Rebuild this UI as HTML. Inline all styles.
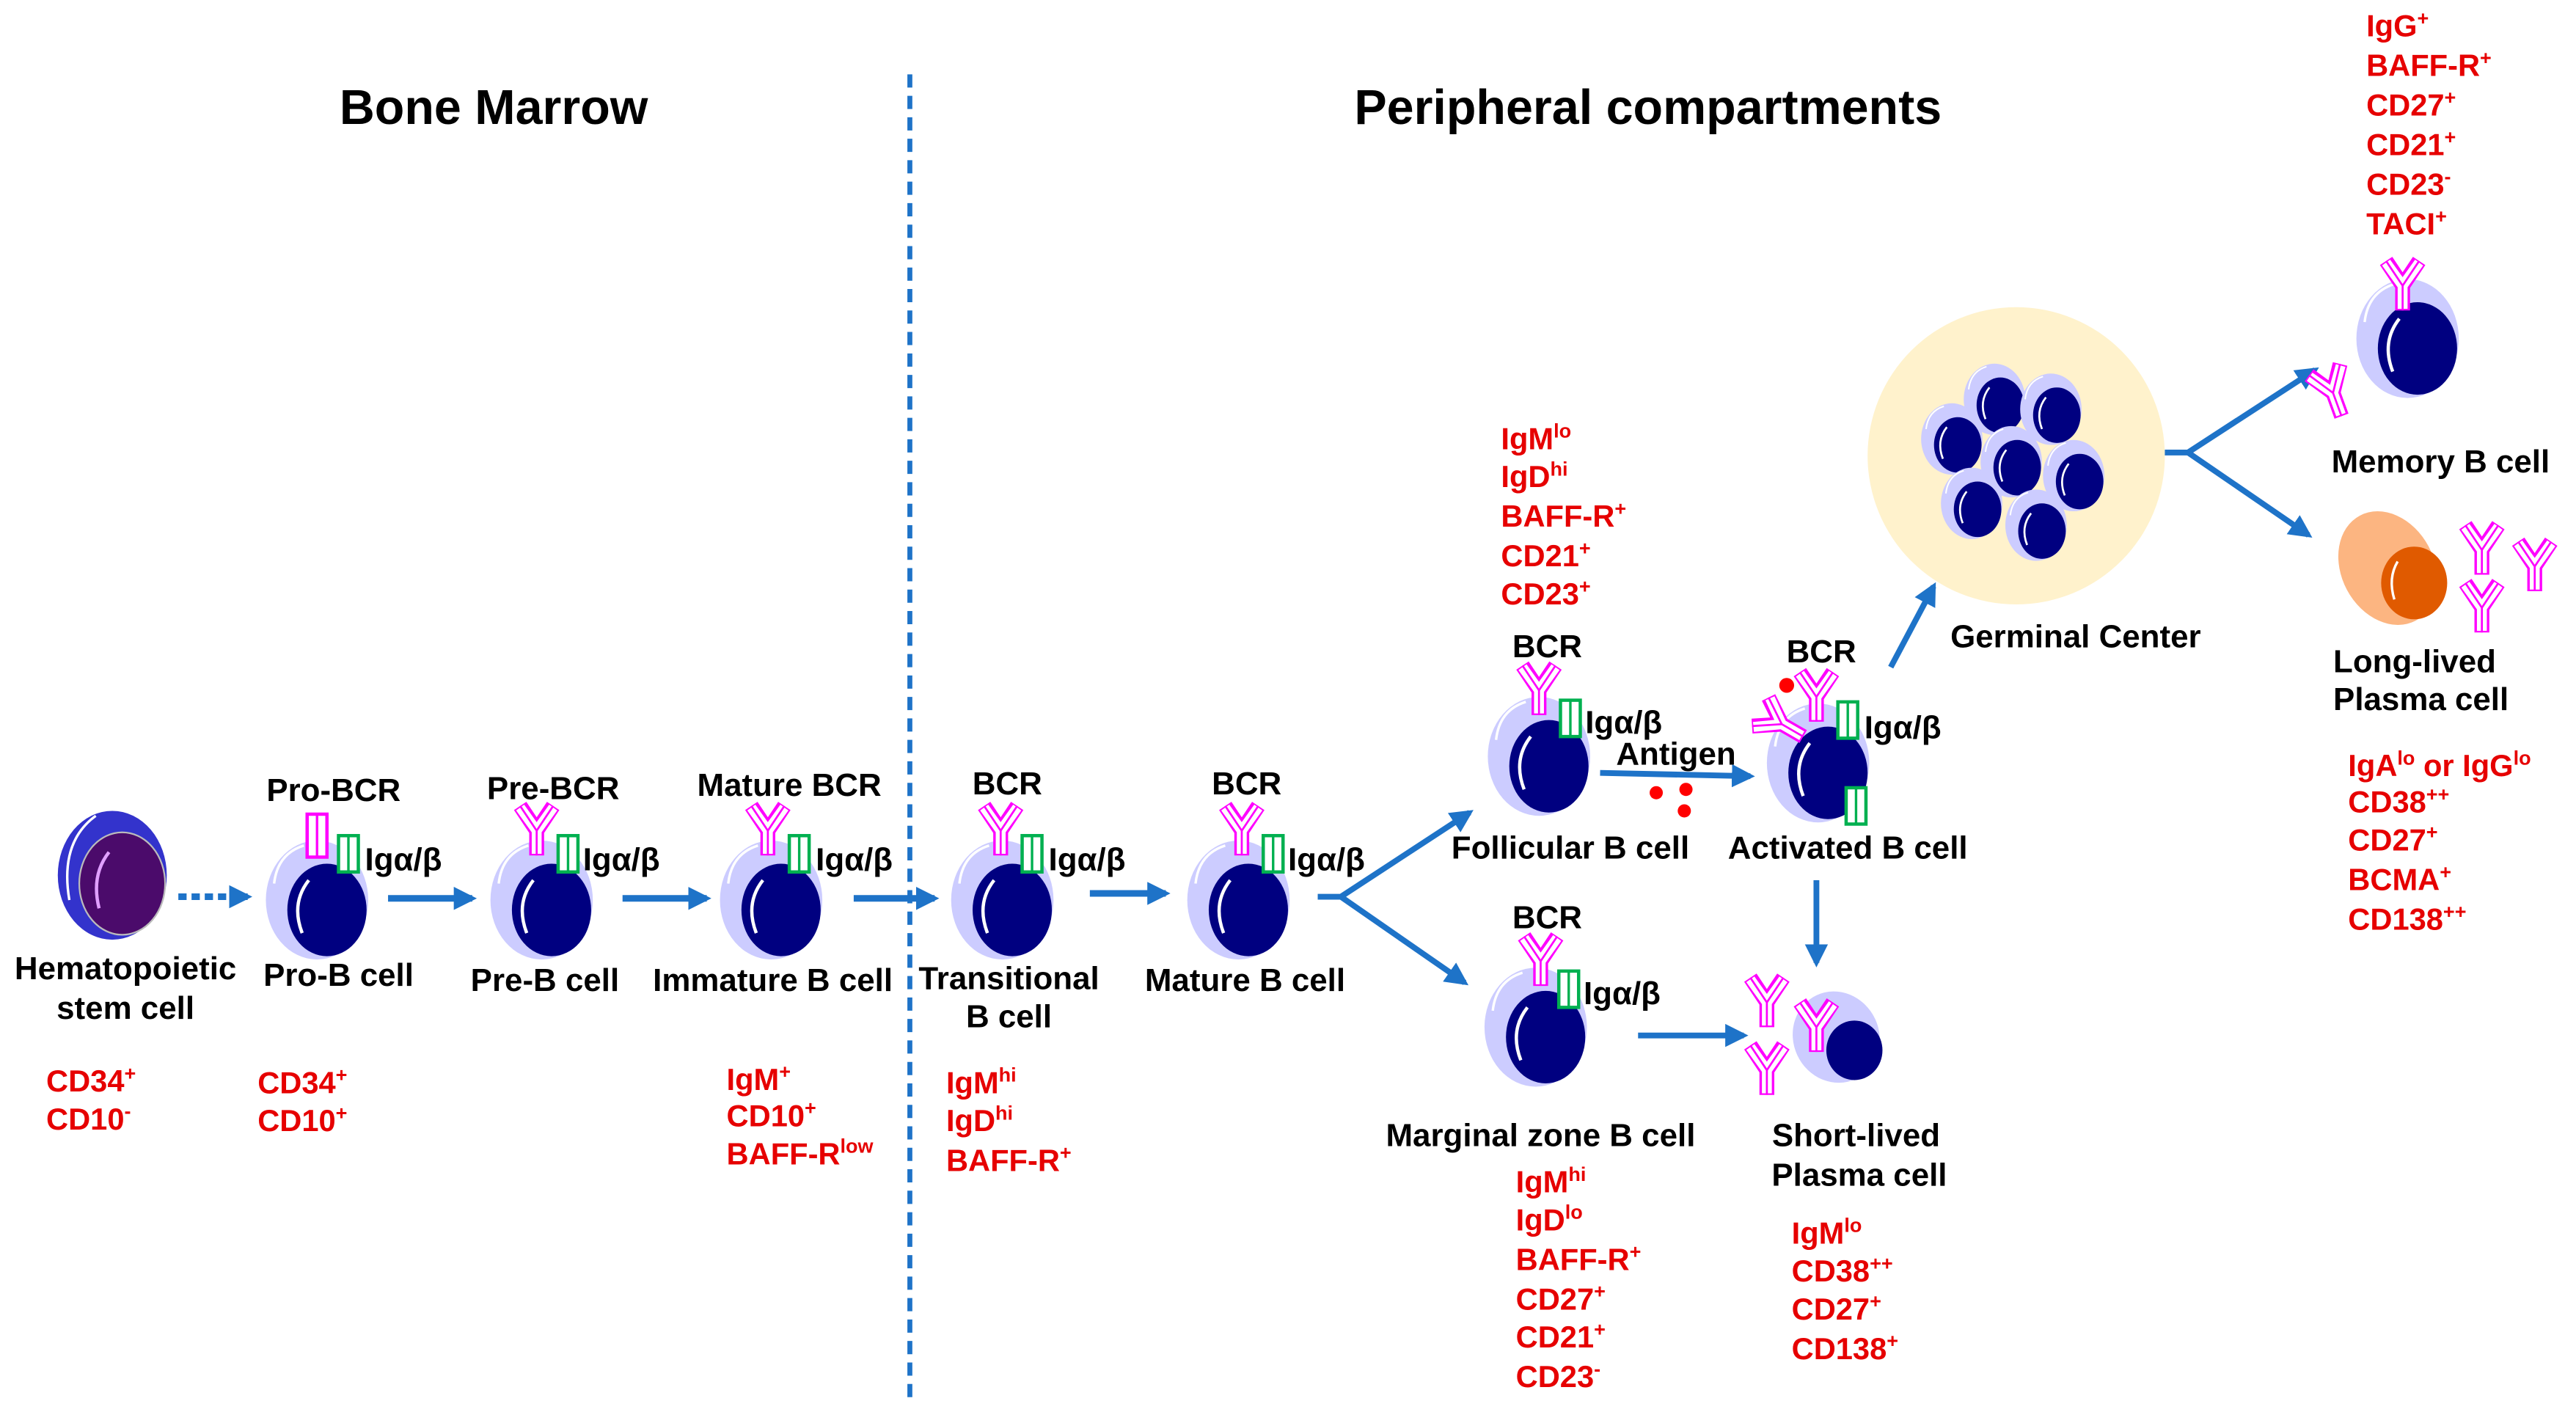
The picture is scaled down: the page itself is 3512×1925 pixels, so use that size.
<!DOCTYPE html>
<html><head><meta charset="utf-8"><style>
html,body{margin:0;padding:0;background:#fff;}
svg{display:block;}
text{font-family:"Liberation Sans",Arial,sans-serif;font-weight:bold;}
.t{font-size:19.5px;fill:#000;}
.r{font-size:18.5px;fill:#e60000;}
.h{font-size:29.5px;fill:#000;}
.s{font-size:12px;}
</style></head><body>
<svg width="3512" height="1925" viewBox="0 0 1560 855" preserveAspectRatio="none" xmlns="http://www.w3.org/2000/svg">
<defs>
<g id="bc">
<ellipse cx="0" cy="0" rx="31" ry="36" fill="#ccccff"/>
<path d="M-26,-10 Q-24,-28 -8,-33" stroke="#fff" stroke-width="1.5" fill="none"/>
<ellipse cx="6" cy="6" rx="24" ry="28" fill="#000080"/>
<path d="M-9,20 Q-16,2 -5,-12" stroke="#fff" stroke-width="2" fill="none"/>
</g>
<g id="ab">
<path d="M0,0 V-15 L-10,-30 M0,-15 L10,-30" stroke="#ff00ff" stroke-width="9" fill="none"/>
<path d="M0,-1 V-15 L-10,-29 M0,-15 L10,-29" stroke="#fff" stroke-width="6" fill="none"/>
<path d="M0,0 V-15 L-10,-30 M0,-15 L10,-30" stroke="#ff00ff" stroke-width="1.2" fill="none"/>
</g>
<g id="ig">
<rect x="0" y="0" width="12" height="22" fill="#fff" stroke="#00b050" stroke-width="2"/>
<line x1="6" y1="0" x2="6" y2="22" stroke="#00b050" stroke-width="1.5"/>
</g>
<marker id="ah2" viewBox="0 0 10 10" markerWidth="14" markerHeight="14" refX="8" refY="5" orient="auto" markerUnits="userSpaceOnUse">
<path d="M0,0 L10,5 L0,10 z" fill="#1e73c8"/>
</marker>
</defs>

<text class="h" x="299" y="75" text-anchor="middle">Bone Marrow</text>
<text class="h" x="998" y="75" text-anchor="middle">Peripheral compartments</text>
<line x1="551" y1="45" x2="551" y2="848" stroke="#1e73c8" stroke-width="3" stroke-dasharray="8,5"/>

<!-- HSC -->
<ellipse cx="68" cy="530" rx="33" ry="39" fill="#3333cc"/>
<path d="M42,545 Q36,510 58,494" stroke="#fff" stroke-width="1.5" fill="none"/>
<ellipse cx="74" cy="535" rx="26" ry="31" fill="#4b0b6b" stroke="#bbb" stroke-width="1"/>
<path d="M60,550 Q55,530 66,516" stroke="#e0a0ff" stroke-width="2" fill="none"/>
<text class="t" x="76" y="593" text-anchor="middle">Hematopoietic</text>
<text class="t" x="76" y="617" text-anchor="middle">stem cell</text>
<text class="r" x="28" y="661">CD34<tspan class="s" dy="-7">+</tspan></text>
<text class="r" x="28" y="684">CD10<tspan class="s" dy="-7">-</tspan></text>
<line x1="108" y1="543" x2="150" y2="543" stroke="#1e73c8" stroke-width="4" stroke-dasharray="5,3" marker-end="url(#ah2)"/>

<!-- Pro-B -->
<use href="#bc" x="192" y="545"/>
<rect x="186" y="493" width="12" height="26" fill="#fff" stroke="#ff00ff" stroke-width="2"/>
<line x1="192" y1="493" x2="192" y2="519" stroke="#ff00ff" stroke-width="1.5"/>
<use href="#ig" x="205" y="506"/>
<text class="t" x="221" y="527">Igα/β</text>
<text class="t" x="202" y="485" text-anchor="middle">Pro-BCR</text>
<text class="t" x="205" y="597" text-anchor="middle">Pro-B cell</text>
<text class="r" x="156" y="662">CD34<tspan class="s" dy="-7">+</tspan></text>
<text class="r" x="156" y="685">CD10<tspan class="s" dy="-7">+</tspan></text>
<line x1="235" y1="544" x2="286" y2="544" stroke="#1e73c8" stroke-width="4" marker-end="url(#ah2)"/>

<!-- Pre-B -->
<use href="#bc" x="328" y="545"/>
<use href="#ab" x="325" y="518"/>
<use href="#ig" x="338" y="506"/>
<text class="t" x="353" y="527">Igα/β</text>
<text class="t" x="335" y="484" text-anchor="middle">Pre-BCR</text>
<text class="t" x="330" y="600" text-anchor="middle">Pre-B cell</text>
<line x1="377" y1="544" x2="428" y2="544" stroke="#1e73c8" stroke-width="4" marker-end="url(#ah2)"/>

<!-- Immature -->
<use href="#bc" x="467" y="545"/>
<use href="#ab" x="465" y="518"/>
<use href="#ig" x="478" y="506"/>
<text class="t" x="494" y="527">Igα/β</text>
<text class="t" x="478" y="482" text-anchor="middle">Mature BCR</text>
<text class="t" x="468" y="600" text-anchor="middle">Immature B cell</text>
<text class="r" x="440" y="660">IgM<tspan class="s" dy="-7">+</tspan></text>
<text class="r" x="440" y="682">CD10<tspan class="s" dy="-7">+</tspan></text>
<text class="r" x="440" y="705">BAFF-R<tspan class="s" dy="-7">low</tspan></text>
<line x1="517" y1="544" x2="566" y2="544" stroke="#1e73c8" stroke-width="4" marker-end="url(#ah2)"/>

<!-- Transitional -->
<use href="#bc" x="607" y="545"/>
<use href="#ab" x="606" y="518"/>
<use href="#ig" x="619" y="506"/>
<text class="t" x="635" y="527">Igα/β</text>
<text class="t" x="610" y="481" text-anchor="middle">BCR</text>
<text class="t" x="611" y="599" text-anchor="middle">Transitional</text>
<text class="t" x="611" y="622" text-anchor="middle">B cell</text>
<text class="r" x="573" y="662">IgM<tspan class="s" dy="-7">hi</tspan></text>
<text class="r" x="573" y="685">IgD<tspan class="s" dy="-7">hi</tspan></text>
<text class="r" x="573" y="709">BAFF-R<tspan class="s" dy="-7">+</tspan></text>
<line x1="660" y1="541" x2="706" y2="541" stroke="#1e73c8" stroke-width="4" marker-end="url(#ah2)"/>

<!-- Mature -->
<use href="#bc" x="750" y="545"/>
<use href="#ab" x="752" y="518"/>
<use href="#ig" x="765" y="506"/>
<text class="t" x="780" y="527">Igα/β</text>
<text class="t" x="755" y="481" text-anchor="middle">BCR</text>
<text class="t" x="754" y="600" text-anchor="middle">Mature B cell</text>
<polyline points="798,543 812,543 890,492" stroke="#1e73c8" stroke-width="3.5" fill="none" marker-end="url(#ah2)"/>
<line x1="812" y1="543" x2="887" y2="595" stroke="#1e73c8" stroke-width="3.5" marker-end="url(#ah2)"/>

<!-- Follicular -->
<use href="#bc" x="932" y="458"/>
<use href="#ab" x="932" y="433"/>
<use href="#ig" x="945" y="424"/>
<text class="t" x="960" y="444">Igα/β</text>
<text class="t" x="937" y="398" text-anchor="middle">BCR</text>
<text class="t" x="951" y="520" text-anchor="middle">Follicular B cell</text>
<text class="r" x="909" y="272">IgM<tspan class="s" dy="-7">lo</tspan></text>
<text class="r" x="909" y="295">IgD<tspan class="s" dy="-7">hi</tspan></text>
<text class="r" x="909" y="319">BAFF-R<tspan class="s" dy="-7">+</tspan></text>
<text class="r" x="909" y="343">CD21<tspan class="s" dy="-7">+</tspan></text>
<text class="r" x="909" y="366">CD23<tspan class="s" dy="-7">+</tspan></text>
<line x1="969" y1="468" x2="1060" y2="470" stroke="#1e73c8" stroke-width="3.5" marker-end="url(#ah2)"/>
<text class="t" x="1015" y="463" text-anchor="middle">Antigen</text>
<circle cx="1003" cy="480" r="4" fill="#f00"/>
<circle cx="1021" cy="478" r="4" fill="#f00"/>
<circle cx="1020" cy="491" r="4" fill="#f00"/>

<!-- Activated -->
<use href="#bc" x="1101" y="462"/>
<use href="#ab" x="1100" y="437"/>
<g transform="translate(1092,446) rotate(-60)"><use href="#ab" x="0" y="0"/></g>
<circle cx="1082" cy="415" r="4.5" fill="#f00"/>
<use href="#ig" x="1113" y="425"/>
<use href="#ig" x="1118" y="477"/>
<text class="t" x="1129" y="447">Igα/β</text>
<text class="t" x="1103" y="401" text-anchor="middle">BCR</text>
<text class="t" x="1119" y="520" text-anchor="middle">Activated B cell</text>
<line x1="1145" y1="404" x2="1171" y2="355" stroke="#1e73c8" stroke-width="3.5" marker-end="url(#ah2)"/>
<line x1="1100" y1="533" x2="1100" y2="583" stroke="#1e73c8" stroke-width="3.5" marker-end="url(#ah2)"/>

<!-- Germinal center -->
<circle cx="1221" cy="276" r="90" fill="#fff2cc"/>
<g transform="scale(0.6)">
<use href="#bc" x="2013" y="403"/>
<use href="#bc" x="2070" y="413"/>
<use href="#bc" x="1970" y="443"/>
<use href="#bc" x="2030" y="466"/>
<use href="#bc" x="2093" y="480"/>
<use href="#bc" x="1990" y="508"/>
<use href="#bc" x="2055" y="530"/>
</g>
<text class="t" x="1257" y="392" text-anchor="middle">Germinal Center</text>
<polyline points="1311,274 1325,274 1402,224" stroke="#1e73c8" stroke-width="3.5" fill="none" marker-end="url(#ah2)"/>
<line x1="1325" y1="274" x2="1398" y2="324" stroke="#1e73c8" stroke-width="3.5" marker-end="url(#ah2)"/>

<!-- Memory -->
<use href="#bc" x="1458" y="205"/>
<use href="#ab" x="1455" y="188"/>
<g transform="translate(1418,252) rotate(-20)"><use href="#ab" x="0" y="0"/></g>
<text class="t" x="1478" y="286" text-anchor="middle">Memory B cell</text>
<text class="r" x="1433" y="22">IgG<tspan class="s" dy="-7">+</tspan></text>
<text class="r" x="1433" y="46">BAFF-R<tspan class="s" dy="-7">+</tspan></text>
<text class="r" x="1433" y="70">CD27<tspan class="s" dy="-7">+</tspan></text>
<text class="r" x="1433" y="94">CD21<tspan class="s" dy="-7">+</tspan></text>
<text class="r" x="1433" y="118">CD23<tspan class="s" dy="-7">-</tspan></text>
<text class="r" x="1433" y="142">TACI<tspan class="s" dy="-7">+</tspan></text>

<!-- Long-lived plasma -->
<ellipse cx="1446" cy="344" rx="28" ry="36" fill="#fcb581" transform="rotate(-28 1446 344)"/>
<ellipse cx="1462" cy="353" rx="20" ry="22" fill="#e05a00"/>
<path d="M1450,363 Q1446,350 1452,340" stroke="#fff" stroke-width="1.5" fill="none"/>
<use href="#ab" x="1503" y="348"/>
<use href="#ab" x="1535" y="358"/>
<use href="#ab" x="1503" y="383"/>
<text class="t" x="1413" y="407">Long-lived</text>
<text class="t" x="1413" y="430">Plasma cell</text>
<text class="r" x="1422" y="470">IgA<tspan class="s" dy="-7">lo</tspan><tspan dy="7"> or IgG</tspan><tspan class="s" dy="-7">lo</tspan></text>
<text class="r" x="1422" y="492">CD38<tspan class="s" dy="-7">++</tspan></text>
<text class="r" x="1422" y="515">CD27<tspan class="s" dy="-7">+</tspan></text>
<text class="r" x="1422" y="539">BCMA<tspan class="s" dy="-7">+</tspan></text>
<text class="r" x="1422" y="563">CD138<tspan class="s" dy="-7">++</tspan></text>

<!-- Marginal zone -->
<use href="#bc" x="930" y="622"/>
<use href="#ab" x="933" y="597"/>
<use href="#ig" x="944" y="588"/>
<text class="t" x="959" y="608">Igα/β</text>
<text class="t" x="937" y="562" text-anchor="middle">BCR</text>
<text class="t" x="933" y="694" text-anchor="middle">Marginal zone B cell</text>
<text class="r" x="918" y="722">IgM<tspan class="s" dy="-7">hi</tspan></text>
<text class="r" x="918" y="745">IgD<tspan class="s" dy="-7">lo</tspan></text>
<text class="r" x="918" y="769">BAFF-R<tspan class="s" dy="-7">+</tspan></text>
<text class="r" x="918" y="793">CD27<tspan class="s" dy="-7">+</tspan></text>
<text class="r" x="918" y="816">CD21<tspan class="s" dy="-7">+</tspan></text>
<text class="r" x="918" y="840">CD23<tspan class="s" dy="-7">-</tspan></text>
<line x1="992" y1="627" x2="1056" y2="627" stroke="#1e73c8" stroke-width="3.5" marker-end="url(#ah2)"/>

<!-- Short-lived plasma -->
<ellipse cx="1112" cy="628" rx="26" ry="28" fill="#ccccff" transform="rotate(-25 1112 628)"/>
<ellipse cx="1123" cy="636" rx="17" ry="18" fill="#000080"/>
<use href="#ab" x="1070" y="622"/>
<use href="#ab" x="1100" y="637"/>
<use href="#ab" x="1070" y="663"/>
<text class="t" x="1124" y="694" text-anchor="middle">Short-lived</text>
<text class="t" x="1126" y="718" text-anchor="middle">Plasma cell</text>
<text class="r" x="1085" y="753">IgM<tspan class="s" dy="-7">lo</tspan></text>
<text class="r" x="1085" y="776">CD38<tspan class="s" dy="-7">++</tspan></text>
<text class="r" x="1085" y="799">CD27<tspan class="s" dy="-7">+</tspan></text>
<text class="r" x="1085" y="823">CD138<tspan class="s" dy="-7">+</tspan></text>
</svg>
</body></html>
